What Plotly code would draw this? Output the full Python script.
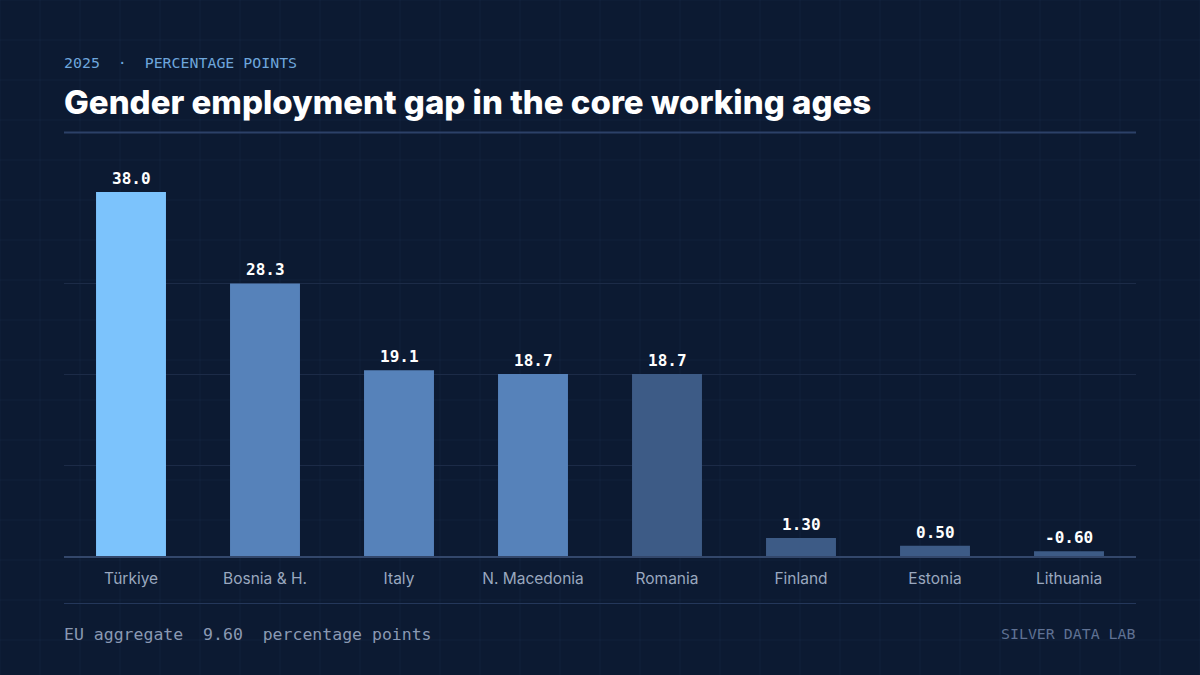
import plotly.graph_objects as go

# ---------------- data ----------------
countries = ["Türkiye", "Bosnia & H.", "Italy", "N. Macedonia", "Romania",
             "Finland", "Estonia", "Lithuania"]
gap_pp = [38.0, 28.3, 19.1, 18.7, 18.7, 1.30, 0.50, -0.60]
tiers = ["top", "mid", "mid", "mid", "low", "low", "low", "low"]
eu_aggregate = 9.60

subtitle = "2025\u00a0\u00a0·\u00a0\u00a0PERCENTAGE POINTS"
title = "Gender employment gap in the core working ages"
footer_left = "EU aggregate\u00a0\u00a0{}\u00a0\u00a0percentage points"
footer_right = "SILVER DATA LAB"

# ---------------- style ----------------
BG = "#0c1a32"
tier_colors = {"top": "#7cc3fc", "mid": "#5682ba", "low": "#3d5b86"}
W, H = 1200, 675
L, R, T, B = 64, 1136, 192, 556


def fx(px):
    return (px - L) / (R - L)


def fy(py):
    return (B - py) / (B - T)


def fmt(v):
    return f"{v:.1f}" if abs(v) >= 10 else f"{v:.2f}"


ymin = min(0, min(gap_pp))
ymax = max(gap_pp)
min_vis = 0.5  # minimal visible bar height (data units)
heights = [max(v - ymin, min_vis) for v in gap_pp]
tops = [ymin + h for h in heights]

fig = go.Figure()
fig.add_trace(go.Bar(
    x=countries, y=heights, base=ymin,
    marker=dict(color=[tier_colors[t] for t in tiers], line=dict(width=0)),
    hoverinfo="skip", showlegend=False,
))

shapes = []
# faint background grid pattern (40px)
for px in range(0, W + 1, 40):
    shapes.append(dict(type="line", xref="paper", yref="paper", layer="below",
                       x0=fx(px), x1=fx(px), y0=fy(0), y1=fy(H),
                       line=dict(color="rgba(120,150,200,0.06)", width=1)))
for py in range(0, H + 1, 40):
    shapes.append(dict(type="line", xref="paper", yref="paper", layer="below",
                       x0=fx(0), x1=fx(W), y0=fy(py), y1=fy(py),
                       line=dict(color="rgba(120,150,200,0.06)", width=1)))
# top rule and bottom rule
shapes.append(dict(type="line", xref="paper", yref="paper",
                   x0=0, x1=1, y0=fy(132.5), y1=fy(132.5),
                   line=dict(color="#2c4168", width=2)))
shapes.append(dict(type="line", xref="paper", yref="paper",
                   x0=0, x1=1, y0=fy(603.5), y1=fy(603.5),
                   line=dict(color="#24375a", width=1)))

annotations = []
for c, t, v in zip(countries, tops, gap_pp):
    annotations.append(dict(
        x=c, y=t, xref="x", yref="y", yanchor="bottom", yshift=2,
        showarrow=False, text=fmt(v),
        font=dict(family="DejaVu Sans Mono", size=16, color="#ffffff", weight="bold"),
    ))
annotations += [
    dict(x=0, y=fy(63), xref="paper", yref="paper", xanchor="left", yanchor="middle",
         xshift=-2, showarrow=False, text=subtitle,
         font=dict(family="DejaVu Sans Mono", size=14.9, color="#6ea6dc")),
    dict(x=0, y=fy(102), xref="paper", yref="paper", xanchor="left", yanchor="middle",
         xshift=-2, showarrow=False, text=title,
         font=dict(family="Inter", size=33, color="#ffffff", weight=800)),
    dict(x=0, y=fy(634), xref="paper", yref="paper", xanchor="left", yanchor="middle",
         xshift=-2, showarrow=False, text=footer_left.format(fmt(eu_aggregate)),
         font=dict(family="DejaVu Sans Mono", size=16.5, color="#8a99b3")),
    dict(x=1, y=fy(634), xref="paper", yref="paper", xanchor="right", yanchor="middle",
         xshift=2, showarrow=False, text=footer_right,
         font=dict(family="DejaVu Sans Mono", size=14.9, color="#5f7193")),
]

grid_vals = [ymin + k * (ymax - ymin) / 4 for k in (1, 2, 3)]

fig.update_layout(
    width=W, height=H,
    margin=dict(l=L, r=W - R, t=T, b=H - B, pad=0),
    paper_bgcolor=BG, plot_bgcolor="rgba(0,0,0,0)",
    bargap=0.478,
    shapes=shapes, annotations=annotations,
    xaxis=dict(showline=True, linecolor="#33476b", linewidth=2,
               ticks="outside", ticklen=7, tickcolor="rgba(0,0,0,0)",
               tickfont=dict(family="Inter", size=15.5, color="#9aa8bf"),
               showgrid=False, zeroline=False, fixedrange=True),
    yaxis=dict(range=[ymin, ymax], tickvals=grid_vals, showticklabels=False,
               showgrid=True, gridcolor="#1c2b47", gridwidth=1,
               zeroline=False, showline=False, fixedrange=True),
    showlegend=False,
)

fig.write_html("out.html", config={"displayModeBar": False})
